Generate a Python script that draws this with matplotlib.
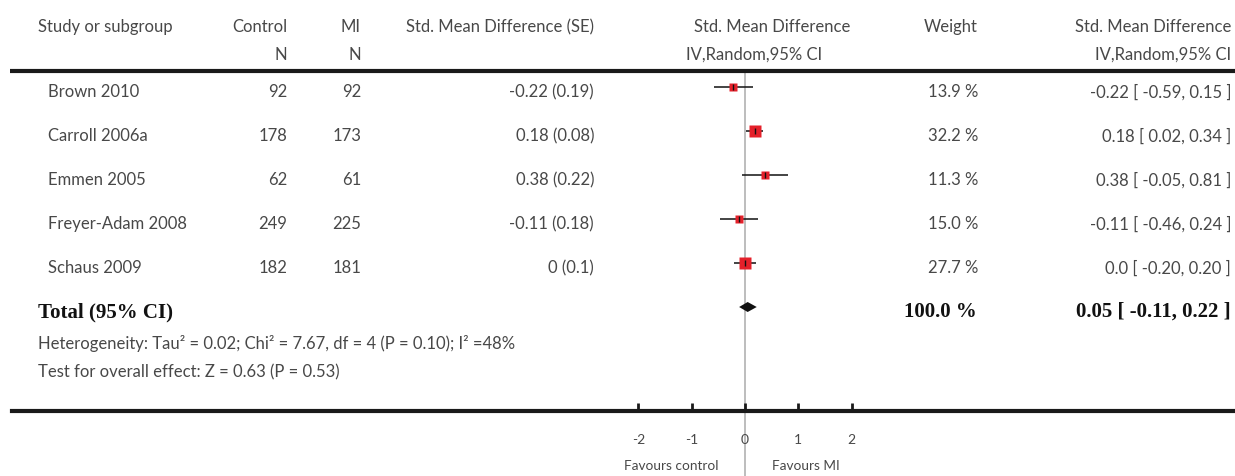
# Forest plot | brief MI vs control | Std. Mean Difference, IV random
import numpy as np
import matplotlib
matplotlib.use("Agg")
import matplotlib.pyplot as plt
import matplotlib.transforms as mtransforms
from matplotlib.lines import Line2D

# ---- data ----
studies = ["Brown 2010", "Carroll 2006a", "Emmen 2005", "Freyer-Adam 2008", "Schaus 2009"]
control_n = [92, 178, 62, 249, 182]
mi_n = [92, 173, 61, 225, 181]
smd = [-0.22, 0.18, 0.38, -0.11, 0.0]
smd_se_labels = ["-0.22 (0.19)", "0.18 (0.08)", "0.38 (0.22)", "-0.11 (0.18)", "0 (0.1)"]
ci_lo = [-0.59, 0.02, -0.05, -0.46, -0.20]
ci_hi = [0.15, 0.34, 0.81, 0.24, 0.20]
ci_labels = ["-0.22 [ -0.59, 0.15 ]", "0.18 [ 0.02, 0.34 ]", "0.38 [ -0.05, 0.81 ]",
             "-0.11 [ -0.46, 0.24 ]", "0.0 [ -0.20, 0.20 ]"]
weights = [13.9, 32.2, 11.3, 15.0, 27.7]
total_est, total_lo, total_hi = 0.05, -0.11, 0.22
total_weight_label = "100.0 %"
total_ci_label = "0.05 [ -0.11, 0.22 ]"
heterogeneity = "Heterogeneity: Tau² = 0.02; Chi² = 7.67, df = 4 (P = 0.10); I² =48%"
overall = "Test for overall effect: Z = 0.63 (P = 0.53)"
xticks = [-2, -1, 0, 1, 2]
xtick_labels = ["-2", "-1", "0", "1", "2"]

# ---- layout (pixels) ----
W, H = 1235, 477
ZERO_PX, UNIT_PX = 745, 53.3        # where SMD=0 sits, px per SMD unit
ROW0_PX, ROW_PX = 88, 44            # first study row, row spacing
TXT = "#484848"
SANS = ["Lato", "DejaVu Sans"]
SERIF = ["Liberation Serif", "DejaVu Serif"]
FS = 12

plt.rcParams["font.family"] = SANS

fig = plt.figure(figsize=(W / 100, H / 100), dpi=100)
ax = fig.add_axes([0, 0, 1, 1])
ax.set_xlim(-ZERO_PX / UNIT_PX, (W - ZERO_PX) / UNIT_PX)
ax.set_ylim((H - ROW0_PX) / ROW_PX, -ROW0_PX / ROW_PX)
ax.axis("off")


def fx(px):
    return px / W


def fy(px):
    return 1 - px / H


rows = np.arange(len(studies))
total_row = len(studies)
# text sits a few pixels below the marks of its row
trans = mtransforms.offset_copy(
    mtransforms.blended_transform_factory(fig.transFigure, ax.transData),
    fig=fig, y=-4, units="dots")

# headers
hdr = dict(fontsize=FS, color=TXT, va="center")
fig.text(fx(38), fy(27), "Study or subgroup", ha="left", **hdr)
fig.text(fx(287), fy(27), "Control", ha="right", **hdr)
fig.text(fx(287), fy(55), "N", ha="right", **hdr)
fig.text(fx(361), fy(27), "MI", ha="right", **hdr)
fig.text(fx(361), fy(55), "N", ha="right", **hdr)
fig.text(fx(594), fy(27), "Std. Mean Difference (SE)", ha="right", **hdr)
fig.text(fx(850), fy(27), "Std. Mean Difference", ha="right", **hdr)
fig.text(fx(822), fy(55), "IV,Random,95% CI", ha="right", **hdr)
fig.text(fx(978), fy(27), "Weight", ha="right", **hdr)
fig.text(fx(1231), fy(27), "Std. Mean Difference", ha="right", **hdr)
fig.text(fx(1231), fy(55), "IV,Random,95% CI", ha="right", **hdr)

# rules
fig.add_artist(Line2D([fx(10), 1], [fy(72), fy(72)], lw=3, color="#1a1a1a",
                      transform=fig.transFigure, solid_capstyle="butt"))

# zero line
ax.axvline(0, ymin=0, ymax=fy(74), color="#bdbdbd", lw=1.4, zorder=1)

# study rows
for i, r in enumerate(rows):
    cell = dict(fontsize=FS, color=TXT, va="center", transform=trans)
    ax.text(fx(48), r, studies[i], ha="left", **cell)
    ax.text(fx(287), r, str(control_n[i]), ha="right", **cell)
    ax.text(fx(361), r, str(mi_n[i]), ha="right", **cell)
    ax.text(fx(594), r, smd_se_labels[i], ha="right", **cell)
    ax.text(fx(978), r, f"{weights[i]:.1f} %", ha="right", **cell)
    ax.text(fx(1231), r, ci_labels[i], ha="right", **cell)

ax.hlines(rows, ci_lo, ci_hi, color="#111111", lw=1.1, zorder=2)
for i, r in enumerate(rows):
    side_px = 2.1 * np.sqrt(weights[i])
    ax.plot(smd[i], r, marker="s", ms=side_px * 0.72, color="#e4202a",
            mec="none", zorder=3)
ax.plot(smd, rows, "|", color="#111111", ms=5, mew=1, zorder=4)

# total
half_h = 5 / ROW_PX
ax.fill([total_lo, total_est, total_hi, total_est],
        [total_row, total_row - half_h, total_row, total_row + half_h],
        color="#111111", lw=0, zorder=4)
bold = dict(fontsize=15, color="#111111", va="center", fontweight="bold",
            family=SERIF, transform=trans)
ax.text(fx(38), total_row, "Total (95% CI)", ha="left", **bold)
ax.text(fx(977), total_row, total_weight_label, ha="right", **bold)
ax.text(fx(1231), total_row, total_ci_label, ha="right", **bold)

fig.text(fx(38), fy(344), heterogeneity, ha="left", **hdr)
fig.text(fx(38), fy(372), overall, ha="left", **hdr)

# bottom scale
ax2 = fig.add_axes([fx(12), fy(412), 1 - fx(12), 0.0005])
ax2.set_xlim((12 - ZERO_PX) / UNIT_PX, (W - ZERO_PX) / UNIT_PX)
ax2.patch.set_visible(False)
for s in ["top", "left", "right"]:
    ax2.spines[s].set_visible(False)
ax2.spines["bottom"].set_linewidth(3)
ax2.spines["bottom"].set_color("#1a1a1a")
ax2.set_yticks([])
ax2.set_xticks(xticks)
ax2.set_xticklabels(xtick_labels)
ax2.tick_params(axis="x", direction="in", length=6, width=2, color="#1a1a1a",
                labelsize=FS - 2, labelcolor=TXT, pad=16)

fig.text(fx(718), fy(466), "Favours control", ha="right", va="center",
         fontsize=FS - 2.2, color=TXT)
fig.text(fx(772), fy(466), "Favours MI", ha="left", va="center",
         fontsize=FS - 2.2, color=TXT)

fig.savefig("out.png", dpi=100)
